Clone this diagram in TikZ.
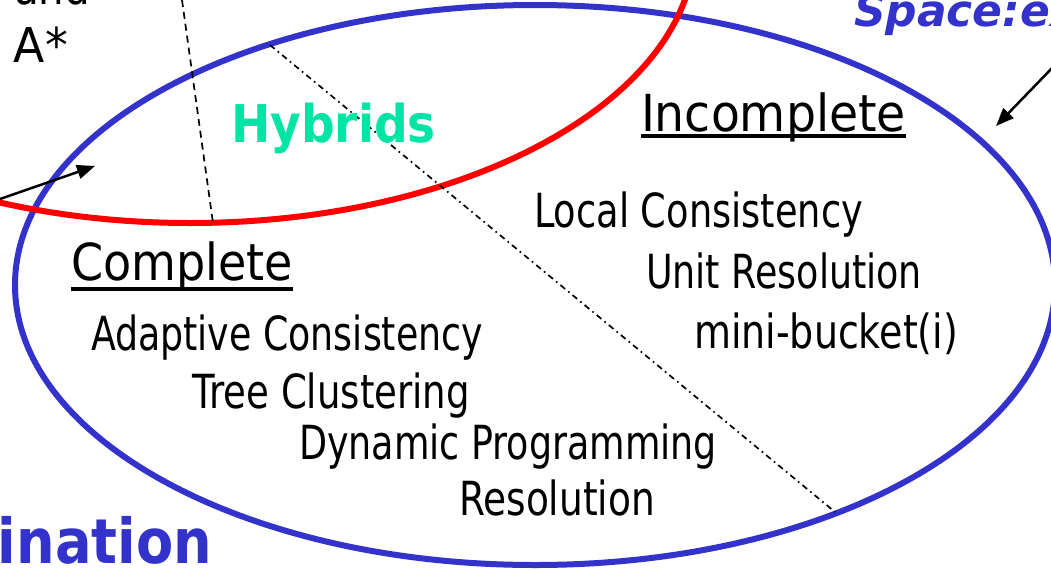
\documentclass[tikz,border=0pt]{standalone}
\usepackage{fontspec}
\setmainfont{DejaVu Sans}
\usepackage{graphicx}
\usetikzlibrary{arrows.meta}
\definecolor{ringblue}{RGB}{51,51,204}
\definecolor{hybgreen}{RGB}{0,228,166}
% set a text at its natural height, stretched or squeezed to a given width (pt)
\newcommand{\fitw}[2]{\resizebox{#1pt}{\height}{#2}}
\tikzset{
  lbl/.style={anchor=base west, inner sep=0pt, outer sep=0pt, text=black},
  item/.style={lbl, font=\fontsize{47}{50}\selectfont},
  head/.style={lbl, font=\fontsize{51}{55}\selectfont},
  uline/.style={line width=3.5pt},
  bluering/.style={draw=ringblue, line width=6pt},
  redring/.style={draw=red, line width=6pt},
  pointer/.style={-{Triangle[length=18pt,width=14pt]}, line width=2.5pt},
  dashsplit/.style={line width=1.7pt, dash pattern=on 7pt off 5pt},
  dotsplit/.style={line width=1.7pt, dash pattern=on 6pt off 4pt on 1.7pt off 4pt},
}
\begin{document}
\begin{tikzpicture}[x=1pt,y=-1pt]
\useasboundingbox (0,0) rectangle (1051,570);
\clip (0,0) rectangle (1051,570);

% the two overlapping regions
\draw[bluering] (535,285) ellipse [x radius=520pt, y radius=280pt];
\draw[redring] (190,-56) ellipse [x radius=505pt, y radius=279pt];

% dividing lines
\coordinate (dtop) at (182,0);
\coordinate (dbot) at (213,223);
\draw[dashsplit] (dtop) -- (dbot);
\coordinate (ddtop) at (270,45);
\coordinate (ddbot) at (835,512);
\draw[dotsplit] (ddtop) -- (ddbot);

% pointers into the regions
\coordinate (lfrom) at (0,199);
\coordinate (lto) at (95,166);
\draw[pointer] (lfrom) -- (lto);
\coordinate (rfrom) at (1055,65);
\coordinate (rto) at (996,126);
\draw[pointer] (rfrom) -- (rto);

% labels
\node[lbl, font=\fontsize{48}{52}\selectfont] (and) at (14,5) {\fitw{76}{and}};
\node[lbl, font=\fontsize{48}{52}\selectfont] (astar) at (14,62) {\fitw{54}{A*}};
\node[lbl, font=\fontsize{52}{56}\selectfont\bfseries, text=hybgreen] (hyb) at (231,142) {\fitw{205}{Hybrids}};
\node[lbl, font=\fontsize{44}{48}\selectfont\bfseries\itshape, text=ringblue] (space) at (854,26) {Space:ex};
\node[lbl, font=\fontsize{62}{66}\selectfont\bfseries, text=ringblue] (elim) at (-2,563) {\fitw{214}{ination}};

\node[head] (incomp) at (641,131) {\fitw{265}{Incomplete}};
\draw[uline] ([yshift=-5pt]incomp.base west) -- ([yshift=-5pt]incomp.base east);
\node[head] (comp) at (71,280) {\fitw{222}{Complete}};
\draw[uline] ([yshift=-9pt]comp.base west) -- ([yshift=-9pt]comp.base east);

\node[item] (local) at (534,227) {\fitw{329}{Local Consistency}};
\node[item] (unit) at (646,288) {\fitw{276}{Unit Resolution}};
\node[item] (mini) at (694,348) {\fitw{264}{mini-bucket(i)}};

\node[item] (adapt) at (91,350) {\fitw{392}{Adaptive Consistency}};
\node[item] (tree) at (192,408) {\fitw{278}{Tree Clustering}};
\node[item] (dyn) at (299,459) {\fitw{418}{Dynamic Programming}};
\node[item] (res) at (459,515) {\fitw{196}{Resolution}};
\end{tikzpicture}
\end{document}
